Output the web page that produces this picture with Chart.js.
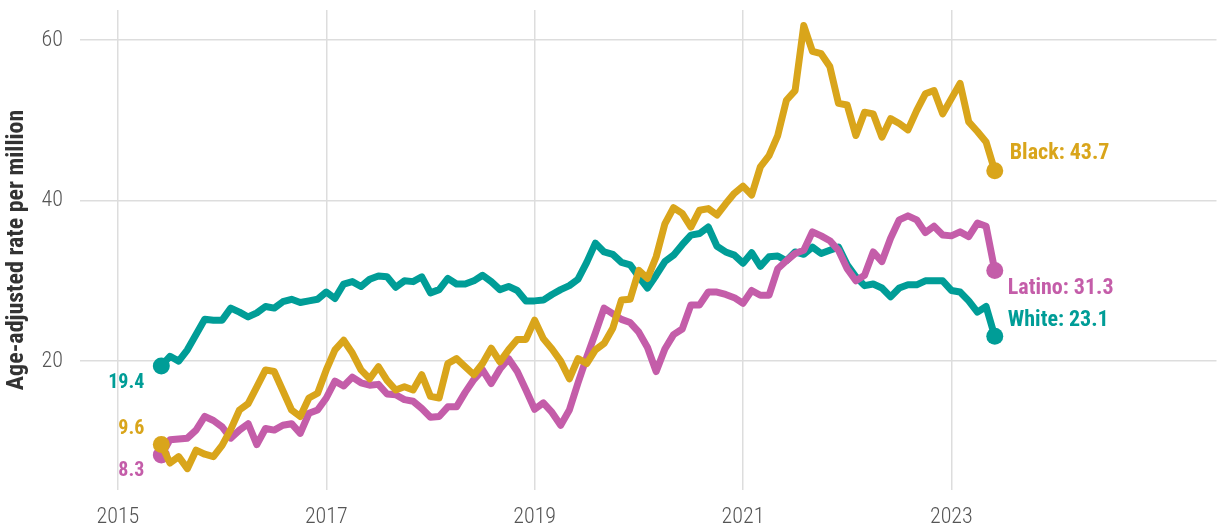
<!DOCTYPE html>
<html>
<head>
<meta charset="utf-8">
<script src="https://cdn.jsdelivr.net/npm/chart.js@4"></script>
<style>
  html, body { margin: 0; padding: 0; background: #fff; }
  #wrap { width: 1225px; height: 529px; }
</style>
</head>
<body>
<div id="wrap"><canvas id="chart" width="1225" height="529"></canvas></div>
<script>
// monthly series, June 2015 -> June 2023
const startYear = 2015;
const startMonth = 6;

const black = [
    9.6, 7.3, 8.1, 6.6, 8.9, 8.4, 8.1, 9.5, 11.5, 13.9,
    14.7, 16.8, 18.9, 18.7, 16.3, 13.9, 13.1, 15.4, 16.0, 18.9,
    21.4, 22.6, 21.0, 18.9, 17.8, 19.3, 17.6, 16.4, 16.8, 16.4,
    18.3, 15.6, 15.4, 19.7, 20.3, 19.3, 18.3, 19.7, 21.6, 19.9,
    21.4, 22.7, 22.7, 25.1, 22.8, 21.5, 20.0, 17.8, 20.3, 19.7,
    21.4, 22.2, 24.1, 27.6, 27.7, 31.3, 30.3, 33.0, 37.1, 39.1,
    38.4, 36.7, 38.8, 39.0, 38.2, 39.6, 40.9, 41.8, 40.7, 44.2,
    45.6, 48.1, 52.5, 53.7, 61.8, 58.6, 58.3, 56.7, 52.1, 51.9,
    48.1, 51.0, 50.8, 47.9, 50.2, 49.6, 48.8, 51.2, 53.3, 53.7,
    50.8, 52.7, 54.6, 49.8, 48.6, 47.3, 43.7
];

const latino = [
    8.3, 10.2, 10.3, 10.4, 11.4, 13.1, 12.6, 11.8, 10.4, 11.4,
    12.2, 9.6, 11.6, 11.4, 12.0, 12.2, 11.0, 13.5, 13.9, 15.4,
    17.5, 16.9, 18.0, 17.3, 17.0, 17.1, 15.9, 15.8, 15.2, 15.0,
    14.1, 13.0, 13.1, 14.3, 14.3, 16.1, 17.7, 18.9, 17.2, 19.0,
    20.3, 18.7, 16.4, 14.0, 14.8, 13.6, 12.0, 13.9, 17.3, 20.5,
    23.5, 26.6, 25.9, 25.2, 24.8, 23.6, 21.7, 18.7, 21.5, 23.3,
    24.0, 27.0, 27.0, 28.6, 28.6, 28.3, 27.9, 27.2, 28.8, 28.2,
    28.2, 31.5, 32.5, 33.4, 33.8, 36.1, 35.6, 35.0, 33.8, 31.5,
    30.0, 30.7, 33.6, 32.4, 35.3, 37.6, 38.1, 37.6, 36.0, 36.8,
    35.7, 35.6, 36.1, 35.5, 37.2, 36.8, 31.3
];

const white = [
    19.4, 20.6, 20.0, 21.4, 23.3, 25.2, 25.1, 25.1, 26.6, 26.1,
    25.5, 26.0, 26.8, 26.6, 27.4, 27.7, 27.3, 27.5, 27.7, 28.6,
    27.8, 29.6, 29.9, 29.3, 30.2, 30.6, 30.5, 29.2, 30.0, 29.9,
    30.5, 28.5, 28.9, 30.3, 29.6, 29.6, 30.0, 30.7, 29.9, 28.9,
    29.3, 28.8, 27.5, 27.5, 27.6, 28.3, 28.9, 29.4, 30.2, 32.3,
    34.7, 33.6, 33.3, 32.3, 32.0, 30.5, 29.1, 30.7, 32.4, 33.2,
    34.5, 35.7, 35.9, 36.7, 34.3, 33.6, 33.2, 32.2, 33.5, 31.8,
    33.0, 33.1, 32.5, 33.6, 33.3, 34.2, 33.4, 33.8, 34.2, 32.0,
    30.5, 29.4, 29.6, 29.1, 28.0, 29.1, 29.5, 29.5, 30.0, 30.0,
    30.0, 28.8, 28.6, 27.5, 26.1, 26.8, 23.1
];

const seriesNames = ['Black', 'Latino', 'White'];
const xTicks = [2015, 2017, 2019, 2021, 2023];
const yTicks = [20, 40, 60];

const GOLD = '#D9A51B';
const PINK = '#C45DA9';
const TEAL = '#009D97';
const FONT = '"Roboto Condensed", "Liberation Sans Narrow", "Roboto", sans-serif';

const xYears = black.map((_, i) => startYear + (startMonth - 1 + i) / 12);
const toPoints = (vals) => vals.map((v, i) => ({ x: xYears[i], y: v }));
const endRadius = (n) => Array.from({ length: n }, (_, i) => (i === 0 || i === n - 1 ? 8.5 : 0));

function makeSet(label, vals, color, labelOffsets) {
    return {
        label,
        data: toPoints(vals),
        borderColor: color,
        backgroundColor: color,
        borderWidth: 7,
        borderCapStyle: 'round',
        borderJoinStyle: 'round',
        tension: 0,
        pointRadius: endRadius(vals.length),
        pointHoverRadius: 0,
        pointBorderWidth: 0,
        labelOffsets,
    };
}

const endLabels = {
    id: 'endLabels',
    afterDatasetsDraw(chart) {
        const ctx = chart.ctx;
        ctx.save();
        ctx.textBaseline = 'middle';
        chart.data.datasets.forEach((ds, di) => {
            const meta = chart.getDatasetMeta(di);
            const first = meta.data[0];
            const last = meta.data[meta.data.length - 1];
            const vals = ds.data;
            const off = ds.labelOffsets;
            ctx.fillStyle = ds.borderColor;

            ctx.font = 'bold 20px ' + FONT;
            ctx.textAlign = 'right';
            ctx.fillText(vals[0].y.toFixed(1), first.x + off.start[0], first.y + off.start[1]);

            ctx.font = 'bold 22px ' + FONT;
            ctx.textAlign = 'left';
            ctx.fillText(ds.label + ': ' + vals[vals.length - 1].y.toFixed(1), last.x + off.end[0], last.y + off.end[1]);
        });
        ctx.restore();
    },
};

new Chart(document.getElementById('chart').getContext('2d'), {
    type: 'line',
    data: {
        datasets: [
            makeSet(seriesNames[0], black, GOLD, { start: [-17, -16], end: [15, -17] }),
            makeSet(seriesNames[1], latino, PINK, { start: [-17, 16], end: [13, 18] }),
            makeSet(seriesNames[2], white, TEAL, { start: [-17, 17], end: [13, -16] }),
        ],
    },
    options: {
        responsive: false,
        animation: false,
        events: [],
        layout: { padding: { top: 10, right: 5, left: 0, bottom: 0 } },
        plugins: {
            legend: { display: false },
            tooltip: { enabled: false },
        },
        scales: {
            x: {
                type: 'linear',
                min: 2014.636,
                max: 2025.545,
                afterBuildTicks: (axis) => { axis.ticks = xTicks.map((v) => ({ value: v })); },
                afterFit: (axis) => { axis.height = 39; },
                grid: { color: '#dddddd', lineWidth: 1.5, drawTicks: false },
                border: { display: false },
                ticks: {
                    padding: 14,
                    color: '#555555',
                    font: { family: FONT, size: 22, weight: 300 },
                    callback: (v) => String(v),
                    maxRotation: 0,
                },
            },
            y: {
                min: 3.94,
                max: 63.74,
                afterBuildTicks: (axis) => { axis.ticks = yTicks.map((v) => ({ value: v })); },
                afterFit: (axis) => {
                    axis.width = 80;
                    axis.paddingTop = 0;
                    axis.paddingBottom = 0;
                },
                grid: { color: '#dddddd', lineWidth: 1.5, drawTicks: false },
                border: { display: false },
                ticks: {
                    padding: 17,
                    color: '#555555',
                    font: { family: FONT, size: 22, weight: 300 },
                },
                title: {
                    display: true,
                    text: 'Age-adjusted rate per million',
                    color: '#333333',
                    font: { family: FONT, size: 24, weight: 'bold' },
                    padding: { top: 3, bottom: 0 },
                },
            },
        },
    },
    plugins: [endLabels],
});
</script>
</body>
</html>
